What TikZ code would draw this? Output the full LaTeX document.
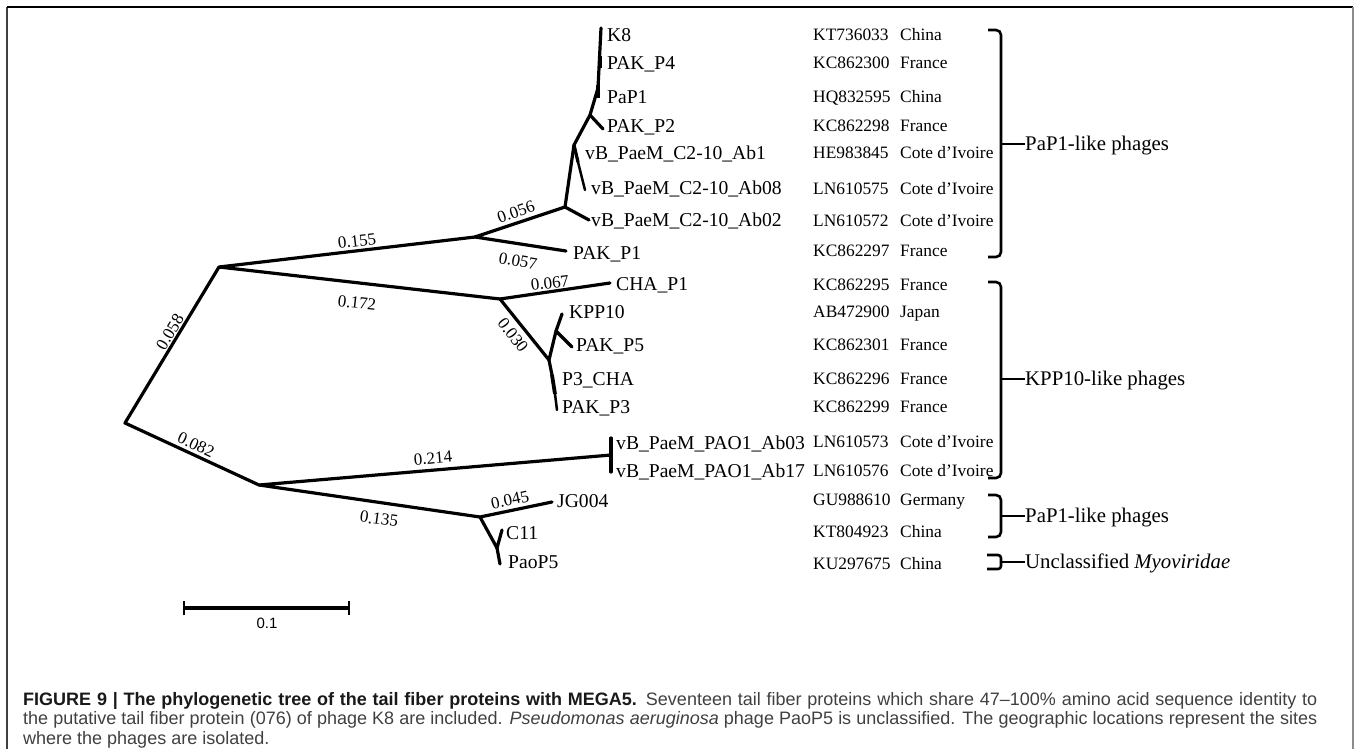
\documentclass[tikz,border=0pt]{standalone}
\usepackage{fontspec}
\setmainfont{Liberation Serif}
\newfontfamily\capfont{Liberation Sans}
\begin{document}
\begin{tikzpicture}[x=1pt,y=-1pt,
  branch/.style={line width=3.2pt, line cap=round, line join=round},
  thinbr/.style={line width=2.5pt, line cap=round, line join=round},
  taxon/.style={anchor=west, inner sep=0pt, text height=12.8pt, text depth=0pt, font=\fontsize{19.6}{22}\selectfont},
  acc/.style={anchor=west, inner sep=0pt, text height=11.3pt, text depth=0pt, font=\fontsize{17.4}{20}\selectfont},
  grp/.style={anchor=west, inner sep=0pt, text height=13.7pt, text depth=0pt, font=\fontsize{20.8}{24}\selectfont},
  blen/.style={inner sep=0pt, font=\fontsize{17}{19}\selectfont},
  bracket/.style={line width=2.6pt, rounded corners=5pt},
  capline/.style={anchor=base west, inner sep=0pt, font=\capfont\fontsize{18}{19.5}\selectfont, text=black!75}
]
\useasboundingbox (0,0) rectangle (1356,749);
% frame
\coordinate (fTL) at (7,7); \coordinate (fTR) at (1353,7);
\coordinate (fBL) at (7,749); \coordinate (fBR) at (1353,749);
\draw[black!75, line width=1.4pt] (fBL) -- (fTL);
\draw[black, line width=1.4pt] (fTL) -- (fTR);
\draw[black!45, line width=1.4pt] (fTR) -- (fBR);

% internal nodes
\coordinate (R0) at (125,423);
\coordinate (A) at (219,267);
\coordinate (B) at (259,485);
\coordinate (C) at (475,237);
\coordinate (D) at (500,299);
\coordinate (E) at (565,207);
\coordinate (F) at (574,145);
\coordinate (Fb) at (578,162);
\coordinate (G) at (590,115);
\coordinate (M1) at (598,88);
\coordinate (H) at (549,360);
\coordinate (I) at (556,331);
\coordinate (Hc) at (552,375);
\coordinate (J) at (480,517);
\coordinate (K) at (497,548);
% tips
\coordinate (tK8) at (601,28);
\coordinate (tP4a) at (600,56); \coordinate (tP4b) at (600,68);
\coordinate (tPaP1a) at (598,85); \coordinate (tPaP1b) at (598,98);
\coordinate (tP2) at (603,129);
\coordinate (tAb1) at (576,154);
\coordinate (tAb08) at (585,190);
\coordinate (tAb02) at (589,220);
\coordinate (tPAKP1) at (566,251);
\coordinate (tCHA) at (610,283);
\coordinate (tKPP10) at (562,314);
\coordinate (tP5) at (572,347);
\coordinate (tP3CHA) at (555,394);
\coordinate (tPAKP3) at (557,410);
\coordinate (tPAO) at (611,455);
\coordinate (tPAOa) at (611,438); \coordinate (tPAOb) at (611,472);
\coordinate (tJG) at (552,502);
\coordinate (tC11) at (502,530);
\coordinate (tPaoP5) at (500,564);

% branches
\draw[branch] (A) -- (R0) -- (B);
\draw[branch] (C) -- (A) -- (D);
\draw[branch] (tPAKP1) -- (C) -- (E);
\draw[branch] (tAb02) -- (E) -- (F) -- (G) -- (M1) -- (tK8);
\draw[branch] (G) -- (tP2);
\draw[thinbr] (F) -- (tAb1);
\draw[branch] (F) -- (Fb);
\draw[thinbr] (Fb) -- (tAb08);
\draw[line width=3.6pt] (tP4a) -- (tP4b);
\draw[line width=3.6pt] (tPaP1a) -- (tPaP1b);
\draw[branch] (tCHA) -- (D) -- (H) -- (I) -- (tKPP10);
\draw[branch] (I) -- (tP5);
\draw[branch] (H) -- (Hc);
\draw[line width=3.8pt] (Hc) -- (tP3CHA);
\draw[thinbr] (tP3CHA) -- (tPAKP3);
\draw[branch] (tPAO) -- (B) -- (J) -- (tJG);
\draw[branch] (tPAOa) -- (tPAOb);
\draw[branch] (J) -- (K) -- (tC11);
\draw[branch] (K) -- (tPaoP5);

% branch length labels
\node[blen, rotate=59] (l058) at (170,332) {0.058};
\node[blen, rotate=-25] (l082) at (196,445) {0.082};
\node[blen, rotate=6.7] (l155) at (357,241) {0.155};
\node[blen, rotate=-6.3] (l172) at (357,303) {0.172};
\node[blen, rotate=19] (l056) at (516,212) {0.056};
\node[blen, rotate=-10] (l057) at (518,261) {0.057};
\node[blen, rotate=7] (l067) at (550,283) {0.067};
\node[blen, rotate=-52] (l030) at (513,335) {0.030};
\node[blen, rotate=5] (l214) at (433,458) {0.214};
\node[blen, rotate=-8] (l135) at (379,519) {0.135};
\node[blen, rotate=12] (l045) at (510,500) {0.045};

% taxa
\node[taxon] (nK8) at (607,35) {K8};
\node[taxon] (nP4) at (607,63) {PAK\_P4};
\node[taxon] (nPaP1) at (607,97) {PaP1};
\node[taxon] (nP2) at (607,126) {PAK\_P2};
\node[taxon] (nAb1) at (585,153) {vB\_PaeM\_C2-10\_Ab1};
\node[taxon] (nAb08) at (591,188) {vB\_PaeM\_C2-10\_Ab08};
\node[taxon] (nAb02) at (591,220) {vB\_PaeM\_C2-10\_Ab02};
\node[taxon] (nPAKP1) at (573,253) {PAK\_P1};
\node[taxon] (nCHA) at (616,284) {CHA\_P1};
\node[taxon] (nKPP10) at (569,312) {KPP10};
\node[taxon] (nP5) at (576,345) {PAK\_P5};
\node[taxon] (nP3CHA) at (562,379) {P3\_CHA};
\node[taxon] (nPAKP3) at (562,407) {PAK\_P3};
\node[taxon] (nAb03) at (616,443) {vB\_PaeM\_PAO1\_Ab03};
\node[taxon] (nAb17) at (616,471) {vB\_PaeM\_PAO1\_Ab17};
\node[taxon] (nJG) at (557,501) {JG004};
\node[taxon] (nC11) at (506,533) {C11};
\node[taxon] (nPaoP5) at (508,562) {PaoP5};

% accession numbers and countries
\foreach \y/\a/\c [count=\i] in {35/KT736033/China, 63/KC862300/France, 97/HQ832595/China, 126/KC862298/France,
  153/HE983845/Cote d'Ivoire, 189/LN610575/Cote d'Ivoire, 221/LN610572/Cote d'Ivoire, 251/KC862297/France,
  285/KC862295/France, 312/AB472900/Japan, 345/KC862301/France, 379/KC862296/France, 407/KC862299/France,
  442/LN610573/Cote d'Ivoire, 471/LN610576/Cote d'Ivoire, 500/GU988610/Germany, 532/KT804923/China, 564/KU297675/China}{
  \node[acc] (acc\i) at (813,\y) {\a};
  \node[acc] (cty\i) at (900,\y) {\c};
}

% brackets and group labels
\node[grp] (g1) at (1025,144) {PaP1-like phages};
\node[grp] (g2) at (1025,379) {KPP10-like phages};
\node[grp] (g3) at (1025,516) {PaP1-like phages};
\node[grp] (g4) at (1025,562) {Unclassified \textit{Myoviridae}};
\coordinate (b1t) at (988,30); \coordinate (b1b) at (988,257); \coordinate (b1m) at (1001,144);
\coordinate (b2t) at (988,282); \coordinate (b2b) at (988,478); \coordinate (b2m) at (1001,379);
\coordinate (b3t) at (988,495); \coordinate (b3b) at (988,537); \coordinate (b3m) at (1001,516);
\coordinate (b4t) at (987,555); \coordinate (b4b) at (987,569); \coordinate (b4m) at (1001,562);
\draw[bracket] (b1t) -- (b1t -| b1m) -- (b1b -| b1m) -- (b1b);
\draw[bracket] (b2t) -- (b2t -| b2m) -- (b2b -| b2m) -- (b2b);
\draw[bracket] (b3t) -- (b3t -| b3m) -- (b3b -| b3m) -- (b3b);
\draw[bracket, rounded corners=3pt] (b4t) -- (b4t -| b4m) -- (b4b -| b4m) -- (b4b);
\draw[line width=2.6pt] (b1m) -- (g1.west);
\draw[line width=2.6pt] (b2m) -- (g2.west);
\draw[line width=2.6pt] (b3m) -- (g3.west);
\draw[line width=2.6pt] (b4m) -- (g4.west);

% scale bar
\coordinate (sbL) at (184,608); \coordinate (sbR) at (349,608);
\draw[line width=3.2pt] (sbL) -- (sbR);
\draw[line width=2.6pt] ([yshift=-7pt]sbL) -- ([yshift=7pt]sbL);
\draw[line width=2.6pt] ([yshift=-7pt]sbR) -- ([yshift=7pt]sbR);
\node[inner sep=0pt, font=\capfont\fontsize{15}{17}\selectfont] (sblab) at (267,623) {0.1};

% caption
\node[capline] (cap1) at (23,705) {\hbox to 1294pt{\textbf{\color{black!90}FIGURE 9 | The phylogenetic tree of the tail fiber proteins with MEGA5.} Seventeen tail fiber proteins which share 47–100\% amino acid sequence identity to}};
\node[capline] (cap2) at (23,724.5) {\hbox to 1294pt{the putative tail fiber protein (076) of phage K8 are included. \textit{Pseudomonas aeruginosa} phage PaoP5 is unclassified. The geographic locations represent the sites}};
\node[capline] (cap3) at (23,744) {where the phages are isolated.};
\end{tikzpicture}
\end{document}
